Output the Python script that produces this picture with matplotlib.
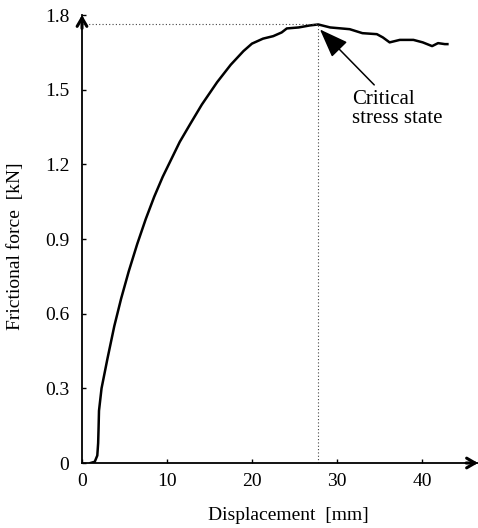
import matplotlib
matplotlib.use("Agg")
import matplotlib.pyplot as plt

plt.rcParams['font.family'] = ['Liberation Serif', 'DejaVu Serif']

# displacement [mm] and frictional force [kN]
displacement = [1.0, 1.5, 1.8, 1.9, 1.95, 2.0, 2.3, 3.0, 3.8, 4.6, 5.5, 6.5,
                7.5, 8.5, 9.5, 10.5, 11.5, 12.7, 14.1, 15.9, 17.5, 19.0,
                20.0, 21.3, 22.5, 23.5, 24.1, 25.5, 26.8, 27.8, 29.2, 31.5,
                33.0, 34.7, 35.4, 36.2, 37.4, 39.0, 40.1, 41.2, 41.9, 42.7, 43.0]
force = [0.0, 0.005, 0.03, 0.08, 0.14, 0.21, 0.30, 0.42, 0.55, 0.66, 0.77,
         0.88, 0.98, 1.07, 1.15, 1.22, 1.29, 1.36, 1.44, 1.53, 1.60, 1.655,
         1.685, 1.705, 1.715, 1.73, 1.746, 1.75, 1.758, 1.762, 1.75, 1.743,
         1.727, 1.723, 1.71, 1.69, 1.70, 1.70, 1.69, 1.675, 1.687, 1.683,
         1.683]

x_ticks = [0, 10, 20, 30, 40]
y_ticks = [0, 0.3, 0.6, 0.9, 1.2, 1.5, 1.8]
y_tick_labels = ["0", "0.3", "0.6", "0.9", "1.2", "1.5", "1.8"]

peak_x = 27.8
peak_y = 1.762

fig = plt.figure(figsize=(4.78, 5.28), dpi=100)
ax = fig.add_axes([82 / 478, 65 / 528, 396 / 478, 448 / 528])

ax.plot(displacement, force, color="black", lw=1.8, solid_joinstyle="round")

# dotted guides to the peak
ax.plot([0, peak_x], [peak_y, peak_y], ls=(0, (1, 2)), color="#444444", lw=0.8)
ax.plot([peak_x, peak_x], [0, peak_y], ls=(0, (1, 2)), color="#444444", lw=0.8)

ax.annotate("Critical\nstress state", xy=(28.0, 1.742), xytext=(31.8, 1.50),
            fontsize=15, ha="left", va="top", linespacing=1.0,
            arrowprops=dict(arrowstyle="-|>,head_length=1.2,head_width=0.45",
                            color="black", lw=1.1, shrinkA=2, shrinkB=0))

ax.set_xlim(0, 46.6)
ax.set_ylim(0, 1.8)
ax.set_xticks(x_ticks)
ax.set_yticks(y_ticks)
ax.set_yticklabels(y_tick_labels)
ax.tick_params(direction="in", length=3, width=1, labelsize=14)
ax.tick_params(axis="y", pad=9)
ax.tick_params(axis="x", pad=7)

for s in ["top", "right"]:
    ax.spines[s].set_visible(False)
for s in ["left", "bottom"]:
    ax.spines[s].set_linewidth(1.3)

# axis arrows
ax.annotate("", xy=(1, 0), xytext=(0.97, 0), xycoords="axes fraction",
            arrowprops=dict(arrowstyle="->,head_length=0.6,head_width=0.35",
                            lw=2.2, color="black", shrinkA=0, shrinkB=0))
ax.annotate("", xy=(0, 1), xytext=(0, 0.97), xycoords="axes fraction",
            arrowprops=dict(arrowstyle="->,head_length=0.6,head_width=0.35",
                            lw=2.2, color="black", shrinkA=0, shrinkB=0))

fig.text(16 / 478, 1 - 246 / 528, "Frictional force  [kN]", rotation=90,
         ha="center", va="center", fontsize=14)
fig.text(288 / 478, 1 - 516 / 528, "Displacement  [mm]",
         ha="center", va="center", fontsize=14)

fig.savefig("out.png", dpi=100)
